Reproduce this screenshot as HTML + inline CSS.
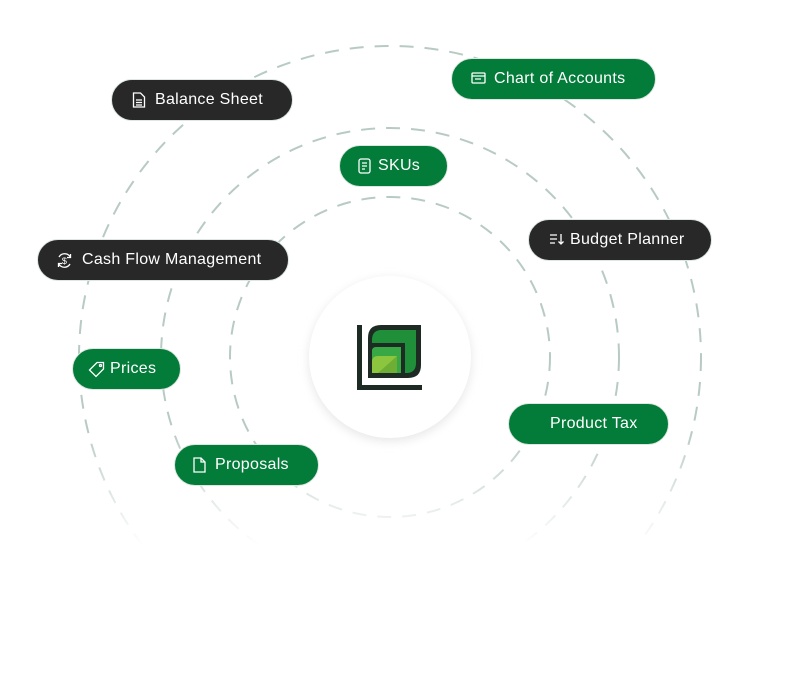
<!DOCTYPE html>
<html><head><meta charset="utf-8"><style>
html,body{margin:0;padding:0;background:#fff;}
body{width:808px;height:682px;position:relative;overflow:hidden;font-family:"Liberation Sans",sans-serif;}
.pill{position:absolute;height:40px;border-radius:22px;border:1px solid #dfe7e3;color:#fff;font-size:16px;letter-spacing:0.3px;line-height:40px;box-sizing:content-box;white-space:nowrap;}
.d{background:#282828;}
.g{background:#037b39;}
.pill svg{position:absolute;top:12px;}
.pill span{position:absolute;top:0;}
</style></head><body>
<svg width="808" height="682" style="position:absolute;left:0;top:0">
<defs>
<linearGradient id="fg" gradientUnits="userSpaceOnUse" x1="0" y1="430" x2="0" y2="546">
<stop offset="0" stop-color="#fff"/><stop offset="1" stop-color="#000"/></linearGradient>
<mask id="m"><rect x="0" y="0" width="808" height="682" fill="url(#fg)"/></mask>
<filter id="sh" x="-30%" y="-30%" width="160%" height="160%"><feGaussianBlur stdDeviation="5"/></filter>
</defs>
<g mask="url(#m)" fill="none" stroke="#b8cac4" stroke-width="2" stroke-dasharray="14 11">
<circle cx="390" cy="357" r="160"/>
<circle cx="390" cy="357" r="229"/>
<circle cx="390" cy="357" r="311"/>
</g>
<circle cx="390" cy="360" r="81" fill="#e6e6e6" filter="url(#sh)"/>
<circle cx="390" cy="357" r="81" fill="#fff"/>
<g>
<path d="M357 325 V390 H422 V385 H362 V325 Z" fill="#1e2a24"/>
<path d="M381 325 H421 V365 Q421 378 408 378 H368 V338 Q368 325 381 325 Z" fill="#1e2a24"/>
<path d="M383 330 H416 L408 338 H380 Q380 331 383 330 Z" fill="#249a40"/>
<path d="M380 330 Q372 331 372 340 V343 H405 V373 H408 Q416 372 416 363 V330 Z" fill="#1f8f3a"/>
<path d="M376 347 H401 V373 H372 V351 Q372 347 376 347 Z" fill="#37a844"/>
<path d="M378 356 H397 V373 H372 V362 Q372 356 378 356 Z" fill="#8cc63f"/>
<path d="M397 356 V373 H378 Z" fill="#6fae34"/>
</g>
</svg>

<div class="pill d" style="left:111px;top:79px;width:180px">
<svg style="left:20px" width="14" height="16" viewBox="0 0 14 16" fill="none" stroke="#fff" stroke-width="1.3"><path d="M1.5 1h7l4 4v10h-11z"/><path d="M4 8h6M4 10.5h6M4 13h6"/></svg>
<span style="left:43px">Balance Sheet</span></div>

<div class="pill g" style="left:451px;top:58px;width:203px">
<svg style="left:19px" width="15" height="14" viewBox="0 0 15 14" fill="none" stroke="#fff" stroke-width="1.3"><rect x="1" y="2" width="13" height="10" rx="1"/><path d="M1 5h13M4 8h6"/></svg>
<span style="left:42px">Chart of Accounts</span></div>

<div class="pill g" style="left:339px;top:145px;width:107px">
<svg style="left:18px" width="13" height="16" viewBox="0 0 13 16" fill="none" stroke="#fff" stroke-width="1.3"><rect x="1" y="1" width="11" height="14" rx="2"/><path d="M4 5h5M4 8h5M4 11h3"/></svg>
<span style="left:38px">SKUs</span></div>

<div class="pill d" style="left:528px;top:219px;width:182px">
<svg style="left:20px" width="16" height="14" viewBox="0 0 16 14" fill="none" stroke="#fff" stroke-width="1.3"><path d="M1 3h7M1 7h7M1 11h5M12 2v10M9.5 9.5L12 12l2.5-2.5"/></svg>
<span style="left:41px">Budget Planner</span></div>

<div class="pill d" style="left:37px;top:239px;width:250px">
<svg style="left:18px" width="17" height="17" viewBox="0 0 17 17" fill="none" stroke="#fff" stroke-width="1.3"><path d="M3 5A6.5 6.5 0 0 1 14.5 5.5M14 12A6.5 6.5 0 0 1 2.5 11.5M14.5 2v3.5H11M2.5 15v-3.5H6"/><text x="8.5" y="12" font-size="9" fill="#fff" stroke="none" text-anchor="middle" font-family="Liberation Sans">$</text></svg>
<span style="left:44px">Cash Flow Management</span></div>

<div class="pill g" style="left:72px;top:348px;width:107px">
<svg style="left:15px" width="17" height="17" viewBox="0 0 17 17" fill="none" stroke="#fff" stroke-width="1.3"><path d="M9 1.5h6.5V8L8 15.5 1.5 9z"/><circle cx="12.5" cy="4.5" r="1"/></svg>
<span style="left:37px">Prices</span></div>

<div class="pill g" style="left:174px;top:444px;width:143px">
<svg style="left:18px" width="13" height="16" viewBox="0 0 13 16" fill="none" stroke="#fff" stroke-width="1.3"><path d="M1 1h7l4 4v10H1z"/><path d="M8 1v4h4"/></svg>
<span style="left:40px">Proposals</span></div>

<div class="pill g" style="left:508px;top:403px;width:159px">
<span style="left:41px">Product Tax</span></div>
</body></html>
